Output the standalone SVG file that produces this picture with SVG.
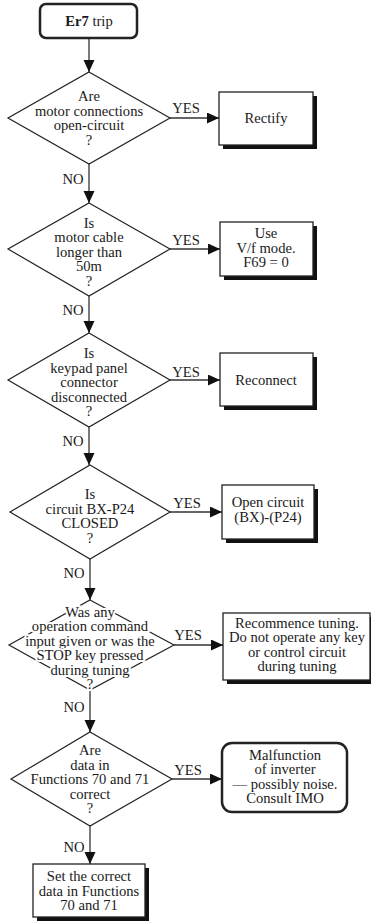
<svg xmlns="http://www.w3.org/2000/svg" width="371" height="923" viewBox="0 0 371 923">
<defs>
<style>
text{font-family:"Liberation Serif","Times New Roman",serif;font-size:14.6px;fill:#1a1a1a;text-anchor:middle}
.b{font-weight:bold}
.halo{stroke:#fff;stroke-width:4px;paint-order:stroke;stroke-linejoin:round}
.dia{fill:#fff;stroke:#222;stroke-width:1.2}
.box{fill:#fff;stroke:#222;stroke-width:1.3}
.sh{fill:#111}
.term{fill:#fff;stroke:#222;stroke-width:2.5}
.con{stroke:#333;stroke-width:1.3;fill:none;marker-end:url(#ah)}
</style>
<marker id="ah" markerUnits="userSpaceOnUse" markerWidth="14" markerHeight="12" refX="12" refY="5.5" orient="auto">
<path d="M0,0 L12,5.5 L0,11 Z" fill="#111"/>
</marker>
</defs>
<rect width="371" height="923" fill="#fff"/>

<g id="connectors">
<line class="con" x1="89" y1="38" x2="89" y2="72"/>
<line class="con" x1="170" y1="118" x2="219" y2="118"/>
<line class="con" x1="89" y1="164" x2="89" y2="203"/>
<line class="con" x1="170" y1="249" x2="220" y2="249"/>
<line class="con" x1="89" y1="296" x2="89" y2="333"/>
<line class="con" x1="170" y1="380" x2="220" y2="380"/>
<line class="con" x1="89" y1="427" x2="89" y2="465"/>
<line class="con" x1="170" y1="512" x2="222" y2="512"/>
<line class="con" x1="90" y1="559" x2="90" y2="600"/>
<line class="con" x1="174" y1="645" x2="223" y2="645"/>
<line class="con" x1="90" y1="690" x2="90" y2="732"/>
<line class="con" x1="172" y1="779" x2="222" y2="779"/>
<line class="con" x1="90" y1="826" x2="90" y2="864"/>
<text x="186" y="113">YES</text>
<text x="73" y="184">NO</text>
<text x="186" y="245">YES</text>
<text x="73" y="315">NO</text>
<text x="186" y="377">YES</text>
<text x="73" y="446">NO</text>
<text x="187" y="508">YES</text>
<text x="74" y="578">NO</text>
<text x="188" y="640">YES</text>
<text x="74" y="712">NO</text>
<text x="188" y="775">YES</text>
<text x="74" y="852">NO</text>
</g>

<g id="start">
<rect class="term" x="40" y="4" width="97" height="34" rx="6"/>
<text x="89" y="26"><tspan class="b">Er7</tspan> trip</text>
</g>

<g id="d1">
<polygon class="dia" points="89,72 170,118 89,164 8,118"/>
<text x="89" y="101">Are<tspan x="89" dy="14.6">motor connections</tspan><tspan x="89" dy="14.6">open-circuit</tspan><tspan x="89" dy="14.6">?</tspan></text>
</g>

<g id="rectify">
<rect class="sh" x="223" y="96" width="94" height="53"/>
<rect class="box" x="219" y="92" width="94" height="53"/>
<text x="266" y="123">Rectify</text>
</g>

<g id="d2">
<polygon class="dia" points="89,203 170,249 89,296 8,249"/>
<text x="89" y="228">Is<tspan x="89" dy="14.4">motor cable</tspan><tspan x="89" dy="14.4">longer than</tspan><tspan x="89" dy="14.4">50m</tspan><tspan x="89" dy="14.4">?</tspan></text>
</g>

<g id="vf">
<rect class="sh" x="224" y="226" width="93" height="54"/>
<rect class="box" x="220" y="222" width="93" height="54"/>
<text x="266" y="238">Use<tspan x="266" dy="14.6">V/f mode.</tspan><tspan x="266" dy="14.6">F69 = 0</tspan></text>
</g>

<g id="d3">
<polygon class="dia" points="89,333 170,380 89,427 8,380"/>
<text x="89" y="358">Is<tspan x="89" dy="14.5">keypad panel</tspan><tspan x="89" dy="14.5">connector</tspan><tspan x="89" dy="14.5">disconnected</tspan><tspan x="89" dy="14.5">?</tspan></text>
</g>

<g id="reconnect">
<rect class="sh" x="224" y="357" width="93" height="53"/>
<rect class="box" x="220" y="353" width="93" height="53"/>
<text x="266" y="385">Reconnect</text>
</g>

<g id="d4">
<polygon class="dia" points="90,465 170,512 90,559 10,512"/>
<text x="90" y="499">Is<tspan x="90" dy="14.7">circuit BX-P24</tspan><tspan x="90" dy="14.7">CLOSED</tspan><tspan x="90" dy="14.7">?</tspan></text>
</g>

<g id="opencircuit">
<rect class="sh" x="226" y="489" width="92" height="54"/>
<rect class="box" x="222" y="485" width="92" height="54"/>
<text x="268" y="507">Open circuit<tspan x="268" dy="15">(BX)-(P24)</tspan></text>
</g>

<g id="d5">
<polygon class="dia" points="90,600 174,645 90,690 9,645"/>
<text class="halo" x="90" y="617">Was any<tspan x="90" dy="14.4">operation command</tspan><tspan x="90" dy="14.4">input given or was the</tspan><tspan x="90" dy="14.4">STOP key pressed</tspan><tspan x="90" dy="14.4">during tuning</tspan><tspan x="90" dy="14.4">?</tspan></text>
</g>

<g id="recommence">
<rect class="sh" x="227" y="617" width="147" height="67"/>
<rect class="box" x="223" y="613" width="147" height="67"/>
<text x="297" y="628">Recommence tuning.<tspan x="297" dy="14.4">Do not operate any key</tspan><tspan x="297" dy="14.4">or control circuit</tspan><tspan x="297" dy="14.4">during tuning</tspan></text>
</g>

<g id="d6">
<polygon class="dia" points="90,732 172,779 90,826 11,779"/>
<text x="90" y="755">Are<tspan x="90" dy="14.5">data in</tspan><tspan x="90" dy="14.5">Functions 70 and 71</tspan><tspan x="90" dy="14.5">correct</tspan><tspan x="90" dy="14.5">?</tspan></text>
</g>

<g id="malfunction">
<rect class="term" x="222" y="743" width="125" height="69" rx="10"/>
<text x="285" y="760">Malfunction<tspan x="285" dy="14.4">of inverter</tspan><tspan x="285" dy="14.4">— possibly noise.</tspan><tspan x="285" dy="14.4">Consult IMO</tspan></text>
</g>

<g id="setdata">
<rect class="sh" x="37" y="868" width="112" height="53"/>
<rect class="box" x="33" y="864" width="112" height="53"/>
<text x="89" y="881">Set the correct<tspan x="89" dy="14.5">data in Functions</tspan><tspan x="89" dy="14.5">70 and 71</tspan></text>
</g>
</svg>
